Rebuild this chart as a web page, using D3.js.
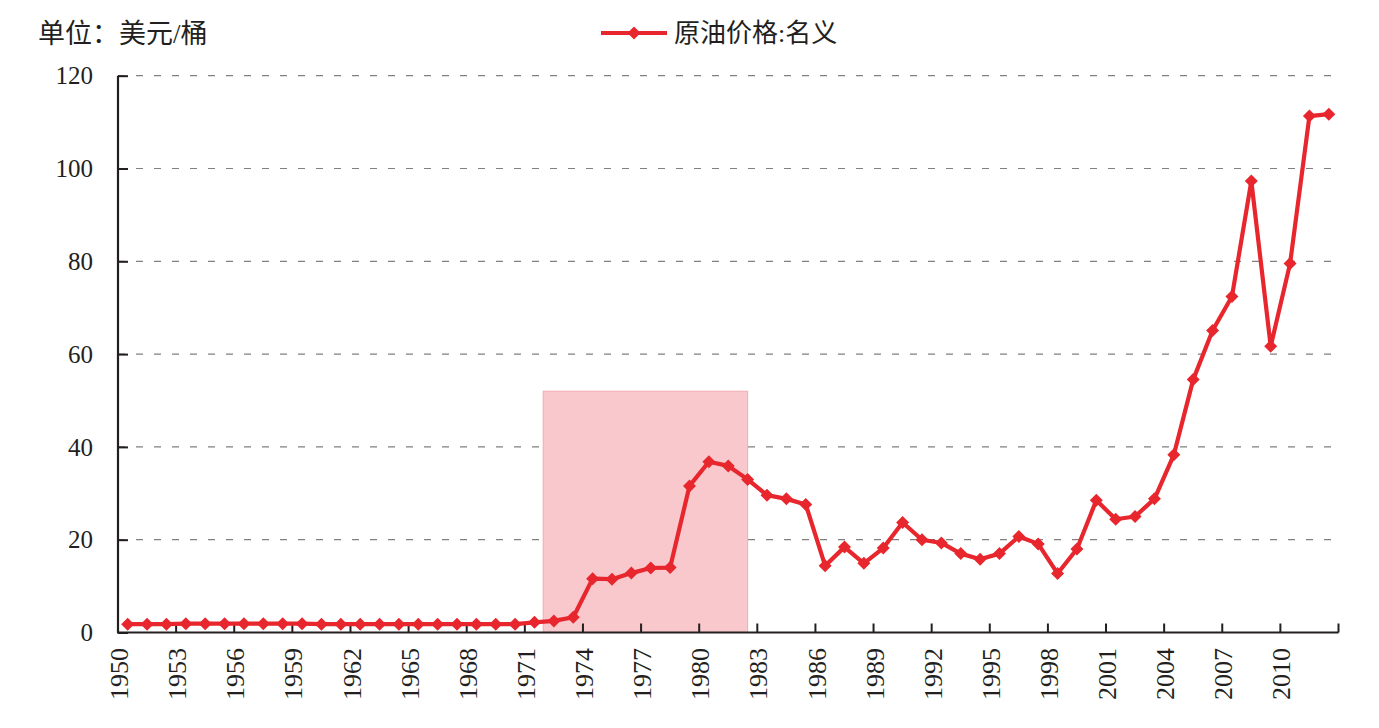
<!DOCTYPE html>
<html>
<head>
<meta charset="utf-8">
<script src="https://cdn.jsdelivr.net/npm/d3@7"></script>
<style>
  body { margin: 0; background: #fff; }
  svg { display: block; }
  text { font-family: "Liberation Serif", "Noto Sans CJK SC", serif; fill: #231f20; }
  .cjk { font-family: "Liberation Serif", "Noto Sans CJK SC", sans-serif; }
</style>
</head>
<body>
<script>
// years on the category axis
const years = d3.range(1950, 2013).map(String);

// nominal crude oil price, USD / barrel
const prices = [
  1.8, 1.8, 1.8, 1.9, 1.9, 1.9, 1.9, 1.9, 1.9, 1.9,
  1.8, 1.8, 1.8, 1.8, 1.8, 1.8, 1.8, 1.8, 1.8, 1.8,
  1.8, 2.2, 2.5, 3.3, 11.6, 11.5, 12.8, 13.9, 14.0, 31.6,
  36.8, 35.9, 33.0, 29.6, 28.8, 27.6, 14.4, 18.4, 14.9, 18.2,
  23.7, 20.0, 19.3, 17.0, 15.8, 17.0, 20.7, 19.1, 12.7, 18.0,
  28.5, 24.4, 25.0, 28.8, 38.3, 54.5, 65.1, 72.4, 97.3, 61.7,
  79.5, 111.3, 111.7
];

const yTicks = [0, 20, 40, 60, 80, 100, 120];
const labelEvery = 3;

// highlighted period
const shadeFrom = "1972";
const shadeTo = "1982";
const shadeTop = 52;

const unitLabel = "单位：美元/桶";
const seriesName = "原油价格:名义";

const width = 1379, height = 728;
const margin = { left: 118, right: 40.5, top: 75.7, bottom: 95.5 };
const red = "#e8262d";

const svg = d3.select("body").append("svg")
  .attr("width", width)
  .attr("height", height);

const x = d3.scaleBand()
  .domain(years)
  .range([margin.left, width - margin.right]);

const y = d3.scaleLinear()
  .domain([0, 120])
  .range([height - margin.bottom, margin.top]);

// dashed grid
svg.append("g")
  .selectAll("line")
  .data(yTicks.filter((d) => d > 0))
  .enter()
  .append("line")
  .attr("x1", margin.left)
  .attr("x2", width - margin.right)
  .attr("y1", (d) => y(d))
  .attr("y2", (d) => y(d))
  .attr("stroke", "#808080")
  .attr("stroke-width", 1.2)
  .attr("stroke-dasharray", "7,11");

// shaded period
svg.append("rect")
  .attr("x", x(shadeFrom) - 1)
  .attr("y", y(shadeTop))
  .attr("width", x(shadeTo) + x.bandwidth() / 2 - x(shadeFrom) + 1)
  .attr("height", y(0) - y(shadeTop))
  .attr("fill", "#f8c8cc")
  .attr("stroke", "#f3aab0")
  .attr("stroke-width", 1);

// y axis
const yAxis = svg.append("g")
  .attr("transform", `translate(${margin.left},0)`)
  .call(d3.axisRight(y).tickValues(yTicks).tickSize(10).tickFormat(""));
yAxis.select(".domain").remove();
yAxis.selectAll("line").attr("stroke", "#231f20").attr("stroke-width", 2);
svg.append("line")
  .attr("x1", margin.left).attr("x2", margin.left)
  .attr("y1", y(120)).attr("y2", y(0))
  .attr("stroke", "#231f20").attr("stroke-width", 2.2);

svg.append("g")
  .selectAll("text")
  .data(yTicks)
  .enter()
  .append("text")
  .attr("x", 93)
  .attr("y", (d) => y(d))
  .attr("dy", "0.35em")
  .attr("text-anchor", "end")
  .attr("font-size", 25)
  .text((d) => d);

// x axis: ticks at category boundaries, every 3 years
const tickYears = years.filter((d, i) => i % labelEvery === 0);
const boundaries = tickYears.map((d) => x(d)).concat([x.range()[1]]);

svg.append("line")
  .attr("x1", margin.left - 1).attr("x2", width - margin.right)
  .attr("y1", y(0)).attr("y2", y(0))
  .attr("stroke", "#231f20").attr("stroke-width", 2.2);

svg.append("g")
  .selectAll("line")
  .data(boundaries.slice(1))
  .enter()
  .append("line")
  .attr("x1", (d) => d).attr("x2", (d) => d)
  .attr("y1", y(0)).attr("y2", y(0) - 9)
  .attr("stroke", "#231f20").attr("stroke-width", 2);

svg.append("g")
  .selectAll("text")
  .data(tickYears)
  .enter()
  .append("text")
  .attr("transform", (d) => `translate(${x(d) + 1},648) rotate(-90)`)
  .attr("dy", "0.35em")
  .attr("text-anchor", "end")
  .attr("font-size", 26)
  .text((d) => d);

// price line
const cx = (d, i) => x(years[i]) + x.bandwidth() / 2;
const line = d3.line()
  .x(cx)
  .y((d) => y(d));

svg.append("path")
  .datum(prices)
  .attr("fill", "none")
  .attr("stroke", red)
  .attr("stroke-width", 4.2)
  .attr("stroke-linejoin", "round")
  .attr("d", line);

const diamond = (r) => `M0,${-r}L${r},0L0,${r}L${-r},0Z`;

svg.append("g")
  .selectAll("path")
  .data(prices)
  .enter()
  .append("path")
  .attr("transform", (d, i) => `translate(${cx(d, i)},${y(d)})`)
  .attr("d", diamond(6.5))
  .attr("fill", red);

// unit label
svg.append("text")
  .attr("class", "cjk")
  .attr("x", 38)
  .attr("y", 34)
  .attr("dy", "0.35em")
  .attr("font-size", 27)
  .text(unitLabel);

// legend
const legend = svg.append("g").attr("transform", "translate(601,33)");
legend.append("line")
  .attr("x1", 0).attr("x2", 66)
  .attr("stroke", red).attr("stroke-width", 4);
legend.append("path")
  .attr("transform", "translate(33,0)")
  .attr("d", diamond(6.5))
  .attr("fill", red);
legend.append("text")
  .attr("class", "cjk")
  .attr("x", 73)
  .attr("dy", "0.35em")
  .attr("font-size", 26)
  .text(seriesName);
</script>
</body>
</html>
